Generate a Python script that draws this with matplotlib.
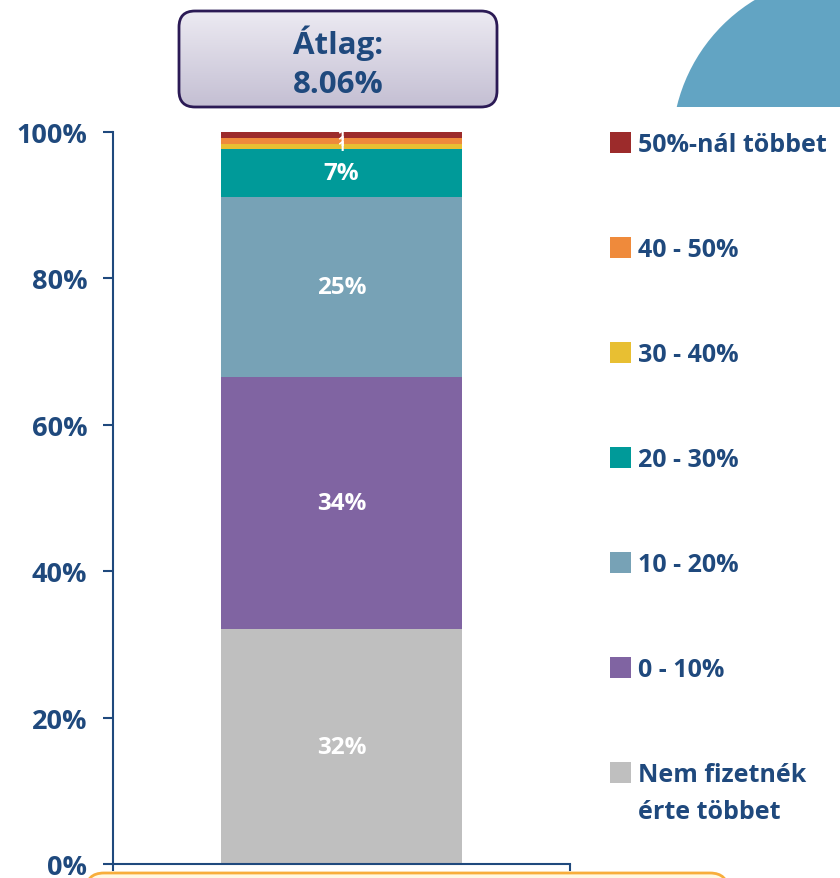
import numpy as np
import matplotlib.pyplot as plt
from matplotlib.patches import FancyBboxPatch, Rectangle, Circle
from matplotlib.colors import LinearSegmentedColormap

plt.rcParams['font.family'] = ['Open Sans', 'DejaVu Sans']
plt.rcParams['font.weight'] = 'bold'

# data (bottom to top)
categories = ['Nem fizetnék\nérte többet', '0 - 10%', '10 - 20%', '20 - 30%',
              '30 - 40%', '40 - 50%', '50%-nál többet']
shares = [32.1, 34.4, 24.6, 6.6, 0.7, 0.8, 0.8]
labels = ['32%', '34%', '25%', '7%', '1', '1', '1']
colors = ['#BFBFBF', '#8064A2', '#77A2B6', '#009A99', '#E8BF32', '#EF8A3B', '#9C2B2B']
yticks = [0, 20, 40, 60, 80, 100]
avg_text = 'Átlag:\n8.06%'

navy = '#1F497D'
W, H = 840, 879
fig = plt.figure(figsize=(W / 100, H / 100), dpi=100)

# decoration layer in pixel coords
deco = fig.add_axes([0, 0, 1, 1], zorder=0)
deco.axis('off')
circ = Circle((844, 148), 172, color='#62A4C3', lw=0)
deco.add_patch(circ)
circ.set_clip_path(Rectangle((0, 0), W, 108, transform=deco.transData))

# bottom note box (cut off)
deco.add_patch(FancyBboxPatch((86, 874), 642, 60, boxstyle='round,pad=0,rounding_size=18',
                              fc='#FFF9E3', ec='#F8AE3C', lw=2))

# title box with gradient
box = FancyBboxPatch((179, 12), 318, 96, boxstyle='round,pad=0,rounding_size=16',
                     fc='none', ec='#2B1A55', lw=2, zorder=3)
deco.add_patch(box)
grad = np.linspace(0, 1, 100).reshape(-1, 1)
img = deco.imshow(grad, extent=(179, 497, 108, 12),
                  cmap=LinearSegmentedColormap.from_list('g', ['#ECEAF2', '#C4BFD3']),
                  aspect='auto', zorder=2)
img.set_clip_path(box)
deco.set_xlim(0, W)
deco.set_ylim(H, 0)
deco.text(338, 63, avg_text, ha='center', va='center', color=navy, fontsize=22.5,
          fontweight='bold', linespacing=1.4, zorder=4)

# main chart
ax = fig.add_axes([113 / W, 14 / H, 457 / W, 732 / H], zorder=1)
ax.patch.set_alpha(0)
bottom = 0
for v, c, lab in zip(shares, colors, labels):
    ax.bar(0, v, width=0.528, bottom=bottom, color=c, lw=0)
    fs = 17.5 if v > 3 else 10
    ax.text(0, bottom + v / 2, lab, ha='center', va='center', color='white',
            fontsize=fs, fontweight='bold')
    bottom += v

ax.set_xlim(-0.5, 0.5)
ax.set_ylim(0, 100)
ax.set_yticks(yticks)
ax.set_yticklabels([f'{t}%' for t in yticks], color=navy, fontsize=19.5, fontweight='bold')
ax.set_xticks([-0.5, 0.5])
ax.set_xticklabels([])
ax.tick_params(axis='y', direction='out', length=7.5, width=1.5, color=navy, pad=11)
ax.tick_params(axis='x', direction='out', length=5, width=1.5, color=navy)
for s in ['top', 'right']:
    ax.spines[s].set_visible(False)
for s in ['left', 'bottom']:
    ax.spines[s].set_color(navy)
    ax.spines[s].set_linewidth(1.5)

# legend, top to bottom
leg_y = [143, 248, 353, 458, 563, 668, 773]
for y, cat, c in zip(leg_y, categories[::-1], colors[::-1]):
    deco.add_patch(Rectangle((610, y - 10.5), 21, 21, fc=c, lw=0))
    for i, line in enumerate(cat.split('\n')):
        deco.text(638, y + 9 + i * 37, line, ha='left', va='baseline', color=navy,
                  fontsize=18, fontweight='bold')

fig.savefig('out.png', dpi=100)
